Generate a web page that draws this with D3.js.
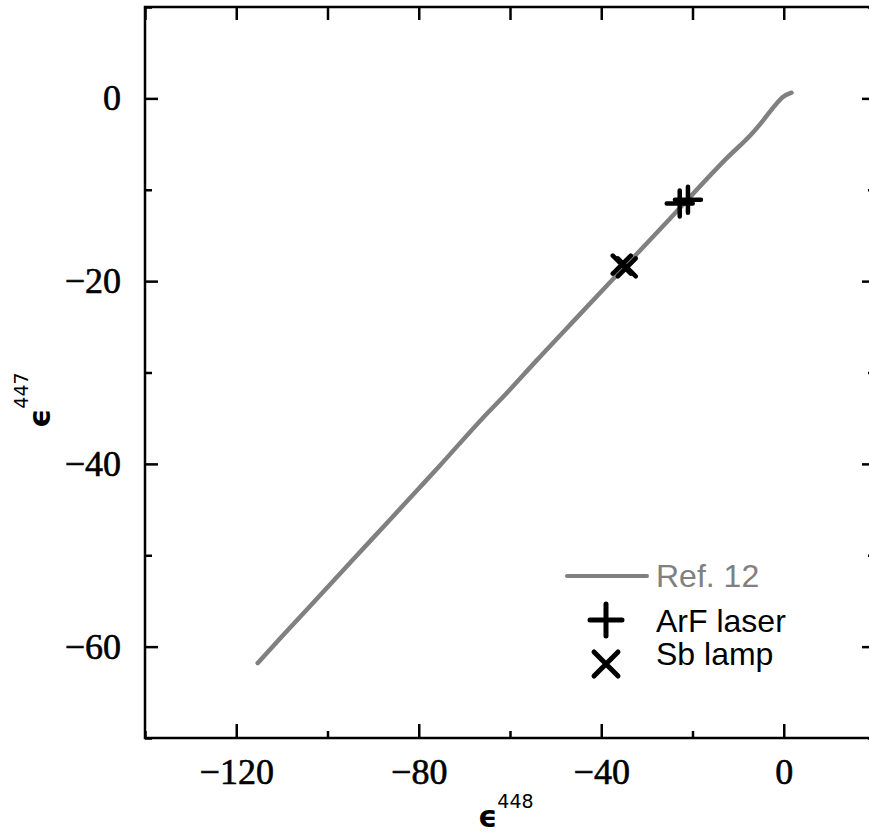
<!DOCTYPE html>
<html>
<head>
<meta charset="utf-8">
<script src="https://cdn.jsdelivr.net/npm/d3@7"></script>
<style>
  body { margin: 0; background: #fff; }
</style>
</head>
<body>
<div id="chart"></div>
<script>
// reference curve (Ref. 12)
var refX = [-115.3, -110, -100, -90, -80, -75.4, -66, -60.8, -54.2, -45, -35, -25, -12.6, -6.7, -4.5, -1.6, -0.2, 1.7];
var refY = [-61.8, -58.9, -53.5, -48.1, -42.7, -40.2, -35.0, -32.3, -28.7, -23.8, -18.5, -13.2, -6.6, -3.7, -2.4, -0.58, 0.14, 0.62];

// measured points
var arfX = [-22.8, -21.0];
var arfY = [-11.5, -11.1];
var sbX = [-35.5, -34.4];
var sbY = [-18.2, -18.5];

var xTicks = [-120, -80, -40, 0];
var xMinor = [-140, -100, -60, -20, 20];
var yTicks = [0, -20, -40, -60];
var yMinor = [-70, -50, -30, -10, 10];

var W = 869, H = 834;
var mLeft = 145, mRight = 875, mTop = 7, mBottom = 738;

var svg = d3.select('#chart').append('svg')
    .attr('width', W)
    .attr('height', H);

var x = d3.scaleLinear().domain([-140, 20]).range([mLeft, mRight]);
var y = d3.scaleLinear().domain([-70, 10]).range([mBottom, mTop]);

var serif = '"Liberation Serif", "Times New Roman", serif';
var sans = '"Liberation Sans", Arial, sans-serif';

// frame + ticks
function styleAxis(g) {
  g.select('.domain').remove();
  g.selectAll('line').attr('stroke', '#000').attr('stroke-width', 2.5);
  g.selectAll('text').attr('font-family', serif).attr('font-size', 36).attr('fill', '#000')
   .attr('stroke', '#000').attr('stroke-width', 0.6);
}

svg.append('g').attr('transform', 'translate(0,' + mBottom + ')')
   .call(d3.axisBottom(x).tickValues(xTicks).tickSizeInner(-14).tickSizeOuter(0).tickPadding(20).tickFormat(d3.format('d')))
   .call(styleAxis);
svg.append('g').attr('transform', 'translate(0,' + mBottom + ')')
   .call(d3.axisBottom(x).tickValues(xMinor).tickSizeInner(-7).tickSizeOuter(0).tickFormat(''))
   .call(styleAxis);
svg.append('g').attr('transform', 'translate(0,' + mTop + ')')
   .call(d3.axisTop(x).tickValues(xTicks.concat(xMinor)).tickSizeInner(-13).tickSizeOuter(0).tickFormat(''))
   .call(styleAxis);

svg.append('g').attr('transform', 'translate(' + mLeft + ',0)')
   .call(d3.axisLeft(y).tickValues(yTicks).tickSizeInner(-13).tickSizeOuter(0).tickPadding(24).tickFormat(d3.format('d')))
   .call(styleAxis);
svg.append('g').attr('transform', 'translate(' + mLeft + ',0)')
   .call(d3.axisLeft(y).tickValues(yMinor).tickSizeInner(-7).tickSizeOuter(0).tickFormat(''))
   .call(styleAxis);
svg.append('g').attr('transform', 'translate(' + mRight + ',0)')
   .call(d3.axisRight(y).tickValues(yTicks).tickSizeInner(-13).tickSizeOuter(0).tickFormat(''))
   .call(styleAxis);
svg.append('g').attr('transform', 'translate(' + mRight + ',0)')
   .call(d3.axisRight(y).tickValues(yMinor).tickSizeInner(-7).tickSizeOuter(0).tickFormat(''))
   .call(styleAxis);

svg.append('rect')
   .attr('x', mLeft).attr('y', mTop)
   .attr('width', mRight - mLeft).attr('height', mBottom - mTop)
   .attr('fill', 'none').attr('stroke', '#000').attr('stroke-width', 2.5);

// reference line
var refData = refX.map(function(d, i) { return [d, refY[i]]; });
svg.append('path')
   .datum(refData)
   .attr('fill', 'none')
   .attr('stroke', '#808080')
   .attr('stroke-width', 4.5)
   .attr('stroke-linecap', 'round')
   .attr('stroke-linejoin', 'round')
   .attr('d', d3.line()
        .x(function(d) { return x(d[0]); })
        .y(function(d) { return y(d[1]); })
        .curve(d3.curveMonotoneX));

function plusPath(h) { return 'M' + (-h) + ',0L' + h + ',0M0,' + (-h) + 'L0,' + h; }
function crossPath(h) { return 'M' + (-h) + ',' + (-h) + 'L' + h + ',' + h + 'M' + (-h) + ',' + h + 'L' + h + ',' + (-h); }

svg.selectAll('.arf').data(arfX).enter().append('path')
   .attr('class', 'arf')
   .attr('transform', function(d, i) { return 'translate(' + x(d) + ',' + y(arfY[i]) + ')'; })
   .attr('d', plusPath(13))
   .attr('stroke', '#000').attr('stroke-width', 4.5).attr('stroke-linecap', 'round');

svg.selectAll('.sb').data(sbX).enter().append('path')
   .attr('class', 'sb')
   .attr('transform', function(d, i) { return 'translate(' + x(d) + ',' + y(sbY[i]) + ')'; })
   .attr('d', crossPath(9))
   .attr('stroke', '#000').attr('stroke-width', 4.5).attr('stroke-linecap', 'round');

// legend
var lg = svg.append('g');
lg.append('line').attr('x1', 567).attr('x2', 647).attr('y1', 576).attr('y2', 576)
  .attr('stroke', '#808080').attr('stroke-width', 4).attr('stroke-linecap', 'round');
lg.append('text').attr('x', 656).attr('y', 587).text('Ref. 12')
  .attr('font-family', sans).attr('font-size', 32).attr('fill', '#808080');
lg.append('path').attr('transform', 'translate(606,620)').attr('d', plusPath(16))
  .attr('stroke', '#000').attr('stroke-width', 5).attr('stroke-linecap', 'round');
lg.append('text').attr('x', 656).attr('y', 632).text('ArF laser')
  .attr('font-family', sans).attr('font-size', 32).attr('fill', '#000');
lg.append('path').attr('transform', 'translate(606,664)').attr('d', crossPath(12))
  .attr('stroke', '#000').attr('stroke-width', 5).attr('stroke-linecap', 'round');
lg.append('text').attr('x', 656).attr('y', 665).text('Sb lamp')
  .attr('font-family', sans).attr('font-size', 32).attr('fill', '#000');

// axis titles
var xl = svg.append('text').attr('x', 478).attr('y', 827)
  .attr('font-family', '"DejaVu Sans", sans-serif').attr('fill', '#000');
xl.append('tspan').attr('font-size', 30).attr('font-weight', 'bold').text('ϵ');
xl.append('tspan').attr('font-size', 19).attr('dy', -19).text('448');

var yl = svg.append('text').attr('transform', 'translate(50,428) rotate(-90)')
  .attr('font-family', '"DejaVu Sans", sans-serif').attr('fill', '#000');
yl.append('tspan').attr('font-size', 30).attr('font-weight', 'bold').text('ϵ');
yl.append('tspan').attr('font-size', 19).attr('dy', -22).text('447');
</script>
</body>
</html>
